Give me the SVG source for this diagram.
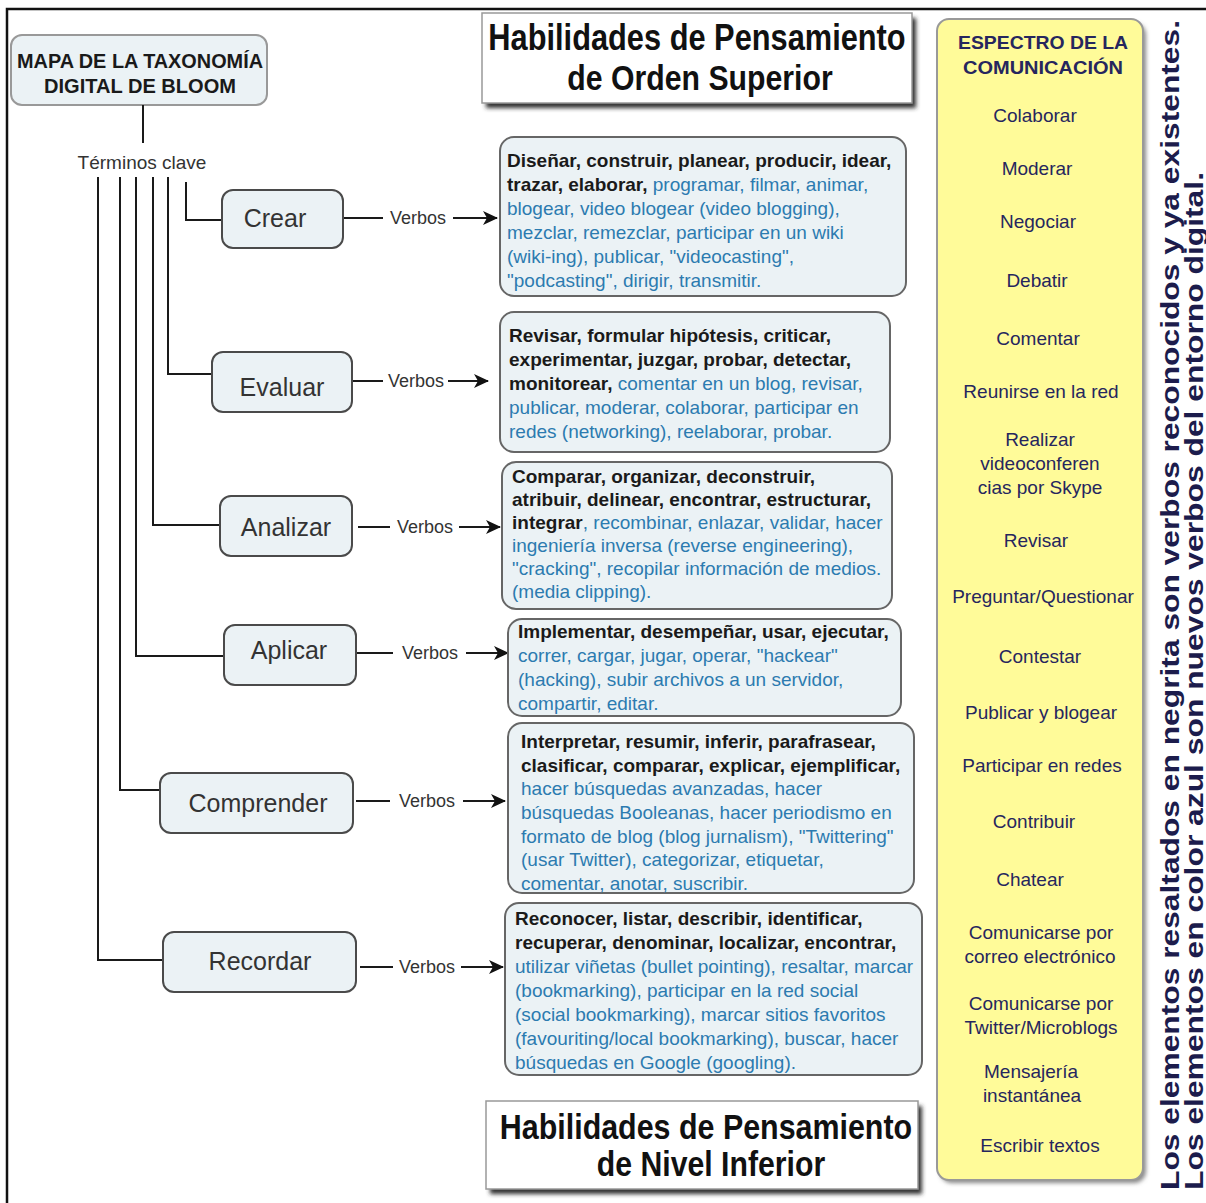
<svg xmlns="http://www.w3.org/2000/svg" width="1206" height="1203" viewBox="0 0 1206 1203">
<defs>
<style>
text{font-family:"Liberation Sans",Arial,sans-serif}
.node rect{fill:#ebf2f5;stroke:#4a4a4a;stroke-width:2}
.lbl{font-size:25px;fill:#333;text-anchor:middle}
.verb{font-size:18px;fill:#333;text-anchor:middle}
.box rect{fill:#ebf2f5;stroke:#666;stroke-width:2}
.box text{font-size:19px;fill:#2c7bb0}
.b{font-weight:bold;fill:#1a1a1a}
.hdr rect.f{fill:#fff;stroke:#999;stroke-width:1.5}
.hdr text{font-size:36px;font-weight:bold;fill:#111;text-anchor:middle}
.spec text{font-size:19px;fill:#26265e;text-anchor:middle}
.conn path{fill:none;stroke:#1a1a1a;stroke-width:2}
.side{font-size:25px;font-weight:bold;fill:#1c1c4c}
</style>
<marker id="ah" viewBox="0 -8 16 16" refX="14" refY="0" markerWidth="16" markerHeight="16" markerUnits="userSpaceOnUse" orient="auto">
<path d="M0,-7 L15,0 L0,7 L4,0 z" fill="#111"/>
</marker>
<filter id="sh" x="-10%" y="-10%" width="130%" height="140%">
<feGaussianBlur stdDeviation="2"/>
</filter>
</defs>
<rect width="1206" height="1203" fill="#fff"/>
<path d="M7,1203 V9 H1206" fill="none" stroke="#111" stroke-width="2.5"/>

<g id="title">
<rect x="11" y="35" width="256" height="70" rx="11" fill="#ebf2f5" stroke="#999" stroke-width="2"/>
<text x="140" y="68" font-size="20" font-weight="bold" fill="#1a1a1a" text-anchor="middle" textLength="246" lengthAdjust="spacingAndGlyphs">MAPA DE LA TAXONOMÍA</text>
<text x="140" y="93" font-size="20" font-weight="bold" fill="#1a1a1a" text-anchor="middle" textLength="192" lengthAdjust="spacingAndGlyphs">DIGITAL DE BLOOM</text>
</g>

<g id="terminos">
<text x="142" y="169" font-size="19" fill="#333" text-anchor="middle">Términos clave</text>
</g>

<g class="conn" id="connectors">
<path d="M143,105 V143"/>
<path d="M186,182 V220 H222"/>
<path d="M168,177 V374 H212"/>
<path d="M153,177 V525 H220"/>
<path d="M136,177 V656 H224"/>
<path d="M120,177 V790 H160"/>
<path d="M98,177 V960 H163"/>
<path d="M343,218 H383"/>
<path d="M453,218 H497" marker-end="url(#ah)"/>
<path d="M352,381 H383"/>
<path d="M448,381 H488" marker-end="url(#ah)"/>
<path d="M358,527 H390"/>
<path d="M459,527 H500" marker-end="url(#ah)"/>
<path d="M357,653 H393"/>
<path d="M466,653 H508" marker-end="url(#ah)"/>
<path d="M356,801 H390"/>
<path d="M463,801 H505" marker-end="url(#ah)"/>
<path d="M360,967 H393"/>
<path d="M461,967 H503" marker-end="url(#ah)"/>
<text class="verb" x="418" y="224">Verbos</text>
<text class="verb" x="416" y="387">Verbos</text>
<text class="verb" x="425" y="533">Verbos</text>
<text class="verb" x="430" y="659">Verbos</text>
<text class="verb" x="427" y="807">Verbos</text>
<text class="verb" x="427" y="973">Verbos</text>
</g>

<g class="node" id="crear"><rect x="222" y="190" width="121" height="58" rx="11"/><text class="lbl" x="275" y="227">Crear</text></g>
<g class="node" id="evaluar"><rect x="212" y="352" width="140" height="60" rx="11"/><text class="lbl" x="282" y="396">Evaluar</text></g>
<g class="node" id="analizar"><rect x="220" y="496" width="132" height="60" rx="11"/><text class="lbl" x="286" y="536">Analizar</text></g>
<g class="node" id="aplicar"><rect x="224" y="625" width="132" height="60" rx="11"/><text class="lbl" x="289" y="659">Aplicar</text></g>
<g class="node" id="comprender"><rect x="160" y="773" width="193" height="60" rx="11"/><text class="lbl" x="258" y="812">Comprender</text></g>
<g class="node" id="recordar"><rect x="163" y="932" width="193" height="60" rx="11"/><text class="lbl" x="260" y="970">Recordar</text></g>

<g class="box" id="v-crear">
<rect x="500" y="137" width="406" height="159" rx="14"/>
<text x="507" y="167"><tspan class="b">Diseñar, construir, planear, producir, idear,</tspan></text>
<text x="507" y="191"><tspan class="b">trazar, elaborar, </tspan>programar, filmar, animar,</text>
<text x="507" y="215">blogear, video blogear (video blogging),</text>
<text x="507" y="239">mezclar, remezclar, participar en un wiki</text>
<text x="507" y="263">(wiki-ing), publicar, "videocasting",</text>
<text x="507" y="287">"podcasting", dirigir, transmitir.</text>
</g>

<g class="box" id="v-evaluar">
<rect x="500" y="312" width="390" height="140" rx="14"/>
<text x="509" y="342"><tspan class="b">Revisar, formular hipótesis, criticar,</tspan></text>
<text x="509" y="366"><tspan class="b">experimentar, juzgar, probar, detectar,</tspan></text>
<text x="509" y="390"><tspan class="b">monitorear, </tspan>comentar en un blog, revisar,</text>
<text x="509" y="414">publicar, moderar, colaborar, participar en</text>
<text x="509" y="438">redes (networking), reelaborar, probar.</text>
</g>

<g class="box" id="v-analizar">
<rect x="502" y="462" width="390" height="147" rx="14"/>
<text x="512" y="483"><tspan class="b">Comparar, organizar, deconstruir,</tspan></text>
<text x="512" y="506"><tspan class="b">atribuir, delinear, encontrar, estructurar,</tspan></text>
<text x="512" y="529"><tspan class="b">integrar</tspan>, recombinar, enlazar, validar, hacer</text>
<text x="512" y="552">ingeniería inversa (reverse engineering),</text>
<text x="512" y="575">"cracking", recopilar información de medios.</text>
<text x="512" y="598">(media clipping).</text>
</g>

<g class="box" id="v-aplicar">
<rect x="508" y="619" width="393" height="97" rx="14"/>
<text x="518" y="638"><tspan class="b">Implementar, desempeñar, usar, ejecutar,</tspan></text>
<text x="518" y="662">correr, cargar, jugar, operar, "hackear"</text>
<text x="518" y="686">(hacking), subir archivos a un servidor,</text>
<text x="518" y="710">compartir, editar.</text>
</g>

<g class="box" id="v-comprender">
<rect x="508" y="723" width="406" height="170" rx="14"/>
<text x="521" y="748"><tspan class="b">Interpretar, resumir, inferir, parafrasear,</tspan></text>
<text x="521" y="772"><tspan class="b">clasificar, comparar, explicar, ejemplificar,</tspan></text>
<text x="521" y="795">hacer búsquedas avanzadas, hacer</text>
<text x="521" y="819">búsquedas Booleanas, hacer periodismo en</text>
<text x="521" y="843">formato de blog (blog jurnalism), "Twittering"</text>
<text x="521" y="866">(usar Twitter), categorizar, etiquetar,</text>
<text x="521" y="890">comentar, anotar, suscribir.</text>
</g>

<g class="box" id="v-recordar">
<rect x="505" y="903" width="417" height="172" rx="14"/>
<text x="515" y="925"><tspan class="b">Reconocer, listar, describir, identificar,</tspan></text>
<text x="515" y="949"><tspan class="b">recuperar, denominar, localizar, encontrar,</tspan></text>
<text x="515" y="973">utilizar viñetas (bullet pointing), resaltar, marcar</text>
<text x="515" y="997">(bookmarking), participar en la red social</text>
<text x="515" y="1021">(social bookmarking), marcar sitios favoritos</text>
<text x="515" y="1045">(favouriting/local bookmarking), buscar, hacer</text>
<text x="515" y="1069">búsquedas en Google (googling).</text>
</g>

<g class="hdr" id="hdr-superior">
<rect x="486" y="18" width="430" height="90" fill="#333" filter="url(#sh)"/>
<rect class="f" x="482" y="13" width="430" height="90"/>
<text transform="translate(697,50) scale(0.855,1)">Habilidades de Pensamiento</text>
<text transform="translate(700,90) scale(0.84,1)">de Orden Superior</text>
</g>

<g class="hdr" id="hdr-inferior">
<rect x="490" y="1106" width="432" height="88" fill="#333" filter="url(#sh)"/>
<rect class="f" x="486" y="1101" width="432" height="88"/>
<text transform="translate(706,1139) scale(0.845,1)">Habilidades de Pensamiento</text>
<text transform="translate(711,1176) scale(0.84,1)">de Nivel Inferior</text>
</g>

<g class="spec" id="espectro">
<rect x="940" y="23" width="206" height="1160" rx="12" fill="#888" filter="url(#sh)"/>
<rect x="937" y="19" width="206" height="1161" rx="12" fill="#fffb99" stroke="#999" stroke-width="2"/>
<text x="1043" y="49" font-size="17" font-weight="bold" textLength="170" lengthAdjust="spacingAndGlyphs">ESPECTRO DE LA</text>
<text x="1043" y="74" font-size="17" font-weight="bold" textLength="160" lengthAdjust="spacingAndGlyphs">COMUNICACIÓN</text>
<text x="1035" y="122">Colaborar</text>
<text x="1037" y="175">Moderar</text>
<text x="1038" y="228">Negociar</text>
<text x="1037" y="287">Debatir</text>
<text x="1038" y="345">Comentar</text>
<text x="1041" y="398">Reunirse en la red</text>
<text x="1040" y="446">Realizar</text>
<text x="1040" y="470">videoconferen</text>
<text x="1040" y="494">cias por Skype</text>
<text x="1036" y="547">Revisar</text>
<text x="1043" y="603">Preguntar/Questionar</text>
<text x="1040" y="663">Contestar</text>
<text x="1041" y="719">Publicar y blogear</text>
<text x="1042" y="772">Participar en redes</text>
<text x="1034" y="828">Contribuir</text>
<text x="1030" y="886">Chatear</text>
<text x="1041" y="939">Comunicarse por</text>
<text x="1040" y="963">correo electrónico</text>
<text x="1041" y="1010">Comunicarse por</text>
<text x="1041" y="1034">Twitter/Microblogs</text>
<text x="1031" y="1078">Mensajería</text>
<text x="1032" y="1102">instantánea</text>
<text x="1040" y="1152">Escribir textos</text>
</g>

<g id="nota">
<text class="side" transform="translate(1179,1190) rotate(-90)" textLength="1170" lengthAdjust="spacingAndGlyphs">Los elementos resaltados en negrita son verbos reconocidos y ya existentes.</text>
<text class="side" transform="translate(1203,1190) rotate(-90)" textLength="1018" lengthAdjust="spacingAndGlyphs">Los elementos en color azul son nuevos verbos del entorno digital.</text>
</g>
</svg>
